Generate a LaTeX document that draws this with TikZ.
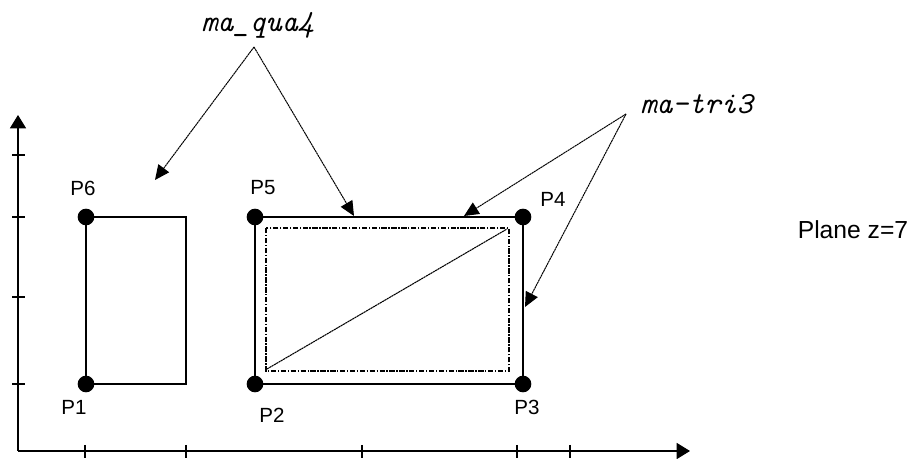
\documentclass[tikz,border=0pt]{standalone}
\usepackage{fontspec}
\setmainfont{Liberation Sans}
\newfontfamily\tagfont{lmmono10-italic.otf}
\usetikzlibrary{arrows.meta}
\begin{document}
\begin{tikzpicture}[x=0.75pt,y=-0.75pt,
  edge/.style={line width=1.1pt},
  inner/.style={line width=0.85pt, dash pattern=on 4pt off 1.2pt on 1pt off 1.2pt},
  diag/.style={line width=0.8pt, dash pattern=on 1.6pt off 0.4pt},
  dot/.style={circle, fill=black, inner sep=0pt, minimum size=12.5pt},
  lbl/.style={font=\fontsize{15.4}{18}\selectfont, inner sep=0pt},
  tag/.style={font=\fontsize{23}{26}\tagfont, inner sep=0pt, anchor=base west},
  ptr/.style={line width=0.75pt, dash pattern=on 1.6pt off 0.4pt, -{Triangle[length=11pt,width=10pt]}},
  axis/.style={line width=1.1pt, -{Triangle[length=10pt,width=12pt]}},
  tickmark/.style={line width=1pt}]
\useasboundingbox (0,0) rectangle (914,459);

% points
\coordinate (P1) at (86,384);
\coordinate (P6) at (86,217);
\coordinate (P2) at (255,384);
\coordinate (P5) at (255,217);
\coordinate (P3) at (523,384);
\coordinate (P4) at (523,217);
\coordinate (R1) at (186,217);
\coordinate (R2) at (186,384);

% axes
\coordinate (O) at (18,451);
\coordinate (Ytip) at (18,115);
\coordinate (Xtip) at (690,451);
\draw[axis] (O) -- (Ytip);
\draw[axis] (O) -- (Xtip);
\foreach \y in {155,217,297,384} \draw[tickmark] (12,\y) -- (25,\y);
\foreach \x in {85,186,362,517,570} \draw[tickmark] (\x,445) -- (\x,458);

% left quadrangle
\draw[edge] (P1) -- (P6) -- (R1) -- (R2) -- cycle;
% right quadrangle
\draw[edge] (P2) -- (P3) -- (P4) -- (P5) -- cycle;
% triangles (inner outline)
\coordinate (T1) at (266,228);
\coordinate (T2) at (509,371);
\draw[inner] (T1) rectangle (T2);
\coordinate (D1) at (267,369);
\coordinate (D2) at (507,229);
\draw[diag] (D1) -- (D2);

% dots
\foreach \p in {P1,P2,P3,P4,P5,P6} \node[dot] (d\p) at (\p) {};

% labels
\node[lbl] (L6) at (83,188) {P6};
\node[lbl] (L5) at (263,188) {P5};
\node[lbl] (L4) at (553,199) {P4};
\node[lbl] (L1) at (74,407) {P1};
\node[lbl] (L2) at (272,415) {P2};
\node[lbl] (L3) at (527,407) {P3};
\node[font=\fontsize{18.5}{22}\selectfont, inner sep=0pt] (plane) at (853,230) {Plane z=7};

% annotations
\node[tag] (qua) at (201,32) {ma\string_qua4};
\node[tag] (tri) at (640,114) {ma-tri3};
\coordinate (qa) at (254,47);
\coordinate (ta) at (626,114);
\coordinate (qt1) at (155,180);
\coordinate (qt2) at (354,216);
\coordinate (tt1) at (464,216);
\coordinate (tt2) at (525,307);
\draw[ptr] (qa) -- (qt1);
\draw[ptr] (qa) -- (qt2);
\draw[ptr] (ta) -- (tt1);
\draw[ptr] (ta) -- (tt2);
\end{tikzpicture}
\end{document}
